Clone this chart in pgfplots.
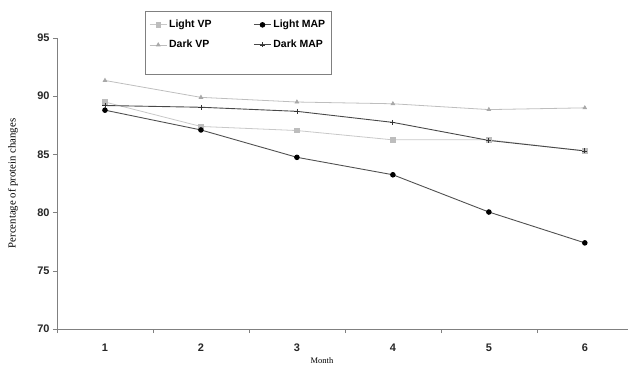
\documentclass[border=0pt]{standalone}
\usepackage{pgfplots}
\pgfplotsset{compat=1.18}
\usepackage{fontspec}
\setmainfont{Liberation Sans}
\newfontfamily\serif{Liberation Serif}
\definecolor{lvp}{HTML}{C8C8C8}
\definecolor{lvpm}{HTML}{BDBDBD}
\definecolor{dvp}{HTML}{BEBEBE}
\definecolor{dvpm}{HTML}{A8A8A8}
\definecolor{lmap}{HTML}{505050}
\definecolor{dmap}{HTML}{484848}
\definecolor{axc}{HTML}{808080}
\begin{document}
\begin{tikzpicture}
\begin{axis}[
  scale only axis,
  width=571bp, height=291bp,
  xmin=0.5, xmax=6.45,
  ymin=70, ymax=95,
  axis lines=left,
  axis line style={draw=axc, line width=0.8pt, -},
  xtick={1,2,3,4,5,6},
  minor xtick={0.5,1.5,2.5,3.5,4.5,5.5},
  major x tick style={draw=none},
  ytick={70,75,80,85,90,95},
  tick align=outside,
  tick style={draw=axc, line width=0.6pt},
  major tick length=4bp,
  minor tick length=4bp,
  /pgf/number format/assume math mode=true,
  ticklabel style={font=\fontsize{11}{13}\selectfont\bfseries, text=black!85},
  xticklabel style={yshift=-7bp},
  xlabel={\serif Month},
  ylabel={\serif Percentage of protein changes},
  xlabel style={font=\fontsize{8.5}{9}\selectfont, at={(axis description cs:0.464,-0.108)}, anchor=center},
  ylabel style={font=\fontsize{10.8}{11}\selectfont, at={(axis description cs:-0.077,0.5)}, anchor=center},
  legend columns=2,
  legend cell align=left,
  legend style={at={(axis description cs:0.154,1.093)}, anchor=north west,
    draw=axc, line width=0.8pt, font=\fontsize{10.5}{12}\selectfont\bfseries,
    inner xsep=4bp, inner ysep=7bp, row sep=7bp,
    /tikz/column 2/.style={column sep=40bp},
    /tikz/column 4/.style={column sep=12bp}},
  clip=false,
]
\addplot[color=lvp, line width=0.8pt, mark=square*, mark size=2.2bp, mark options={fill=lvpm, draw=lvpm}]
  coordinates {(1,89.5) (2,87.4) (3,87.05) (4,86.25) (5,86.25) (6,85.3)};
\addlegendentry{Light VP}
\addplot[color=lmap, line width=0.9pt, mark=*, mark size=2.3bp, mark options={fill=black, draw=black}]
  coordinates {(1,88.8) (2,87.1) (3,84.75) (4,83.25) (5,80.05) (6,77.4)};
\addlegendentry{Light MAP}
\addplot[color=dvp, line width=0.8pt, mark=triangle*, mark size=2bp, mark options={fill=dvpm, draw=dvpm}]
  coordinates {(1,91.35) (2,89.9) (3,89.5) (4,89.35) (5,88.85) (6,89.0)};
\addlegendentry{Dark VP}
\addplot[color=dmap, line width=0.9pt, mark=+, mark size=2.5bp, mark options={draw=black!80, line width=0.8pt}]
  coordinates {(1,89.2) (2,89.05) (3,88.7) (4,87.75) (5,86.2) (6,85.3)};
\addlegendentry{Dark MAP}
\addlegendimage{empty legend}\addlegendentry{\rule{0pt}{3bp}}
\coordinate (bl) at (rel axis cs:0,0);
\coordinate (tr) at (rel axis cs:1,1);
\end{axis}
\pgfresetboundingbox
\path ([shift={(-57bp,-38bp)}]bl) rectangle ([shift={(0bp,38bp)}]tr);
\end{tikzpicture}
\end{document}
